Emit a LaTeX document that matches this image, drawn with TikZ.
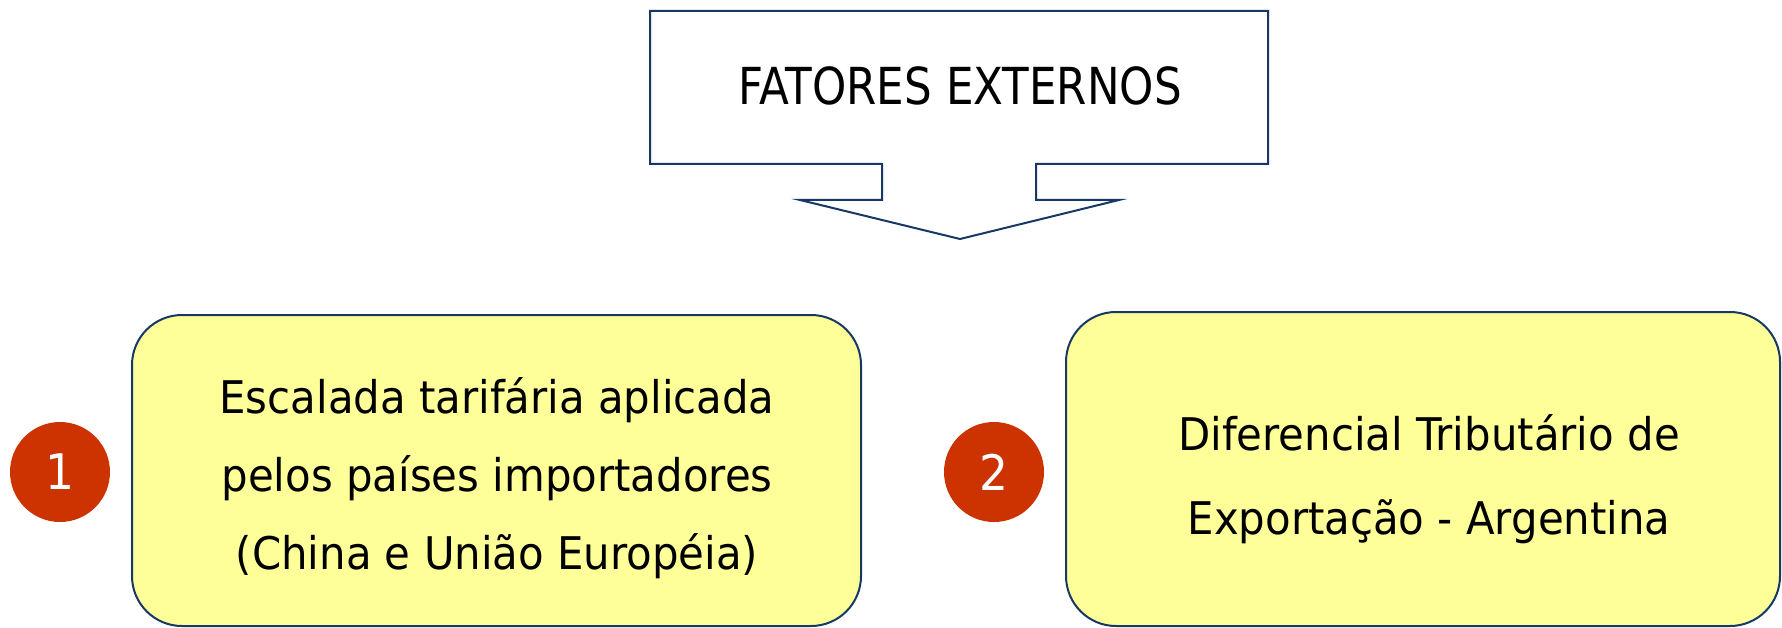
\documentclass[tikz,border=0pt]{standalone}
\usepackage{fontspec}
\setmainfont{DejaVu Sans}[FakeStretch=0.93]
\newfontfamily\titlefont{DejaVu Sans}[FakeStretch=0.855]
\definecolor{edge}{RGB}{23,55,100}
\definecolor{boxfill}{RGB}{255,255,153}
\definecolor{badge}{RGB}{204,51,0}
\begin{document}
\begin{tikzpicture}[x=1pt,y=-1pt,
  outline/.style={draw=edge,line width=2pt},
  factbox/.style={outline,fill=boxfill,rounded corners=50pt},
  badgecirc/.style={circle,fill=badge,minimum size=100pt,inner sep=0pt,text=white,font=\fontsize{49}{49}\selectfont},
  boxtext/.style={align=center,font=\fontsize{45}{78}\selectfont}]
\useasboundingbox (0,0) rectangle (1782,628);
% callout
\draw[outline,fill=white] (650,11) -- (1268,11) -- (1268,164) -- (1036,164) -- (1036,200) -- (1119,200)
  -- (960,239) -- (800,200) -- (882,200) -- (882,164) -- (650,164) -- cycle;
\node[font=\titlefont\fontsize{51}{51}\selectfont] (title) at (960,86) {FATORES EXTERNOS};
% boxes
\draw[factbox] (132,315) rectangle (861,626);
\draw[factbox] (1066,312) rectangle (1780,626);
\node[boxtext] (t1) at (497,478) {Escalada tarifária aplicada\\pelos países importadores\\(China e União Européia)};
\node[boxtext,font=\fontsize{45}{84}\selectfont] (t2) at (1429,479) {Diferencial Tributário de\\Exportação - Argentina};
% badges
\node[badgecirc] (b1) at (60,472) {1};
\node[badgecirc] (b2) at (994,472) {2};
\end{tikzpicture}
\end{document}
